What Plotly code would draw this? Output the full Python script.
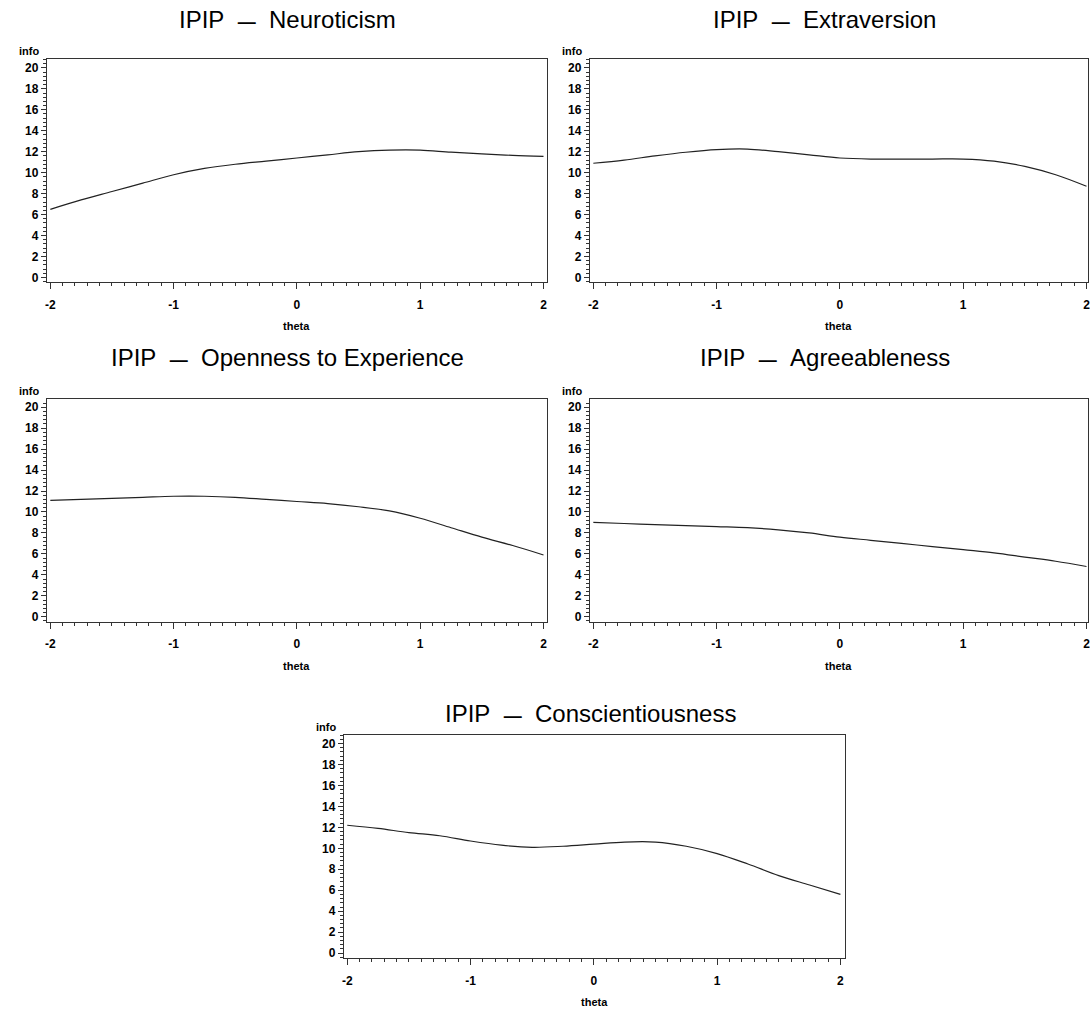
import plotly.graph_objects as go

# ---------------- data ----------------
theta = [-2.0, -1.75, -1.5, -1.25, -1.0, -0.75, -0.5, -0.25, 0.0,
         0.25, 0.5, 0.75, 1.0, 1.25, 1.5, 1.75, 2.0]

neuroticism = [6.5, 7.4, 8.2, 9.0, 9.8, 10.4, 10.8, 11.1, 11.4,
               11.7, 12.0, 12.15, 12.15, 11.95, 11.8, 11.65, 11.55]
extraversion = [10.9, 11.2, 11.6, 11.95, 12.2, 12.25, 12.0, 11.7, 11.4,
                11.3, 11.3, 11.3, 11.3, 11.1, 10.6, 9.8, 8.7]
openness = [11.1, 11.2, 11.3, 11.4, 11.5, 11.5, 11.4, 11.2, 11.0,
            10.8, 10.5, 10.1, 9.4, 8.5, 7.6, 6.8, 5.9]
agreeableness = [9.0, 8.9, 8.8, 8.7, 8.6, 8.5, 8.3, 8.0, 7.6,
                 7.3, 7.0, 6.7, 6.4, 6.1, 5.7, 5.3, 4.8]
conscientiousness = [12.2, 11.9, 11.5, 11.2, 10.7, 10.3, 10.1, 10.2, 10.4,
                     10.6, 10.6, 10.2, 9.5, 8.5, 7.4, 6.5, 5.6]

DASH = "\u00a0\u00a0<span style='font-size:18px'><b>—</b></span>\u00a0\u00a0"
titles = ["IPIP" + DASH + "Neuroticism",
          "IPIP" + DASH + "Extraversion",
          "IPIP" + DASH + "Openness to Experience",
          "IPIP" + DASH + "Agreeableness",
          "IPIP" + DASH + "Conscientiousness"]
series = [neuroticism, extraversion, openness, agreeableness, conscientiousness]

x_tickvals = [-2, -1, 0, 1, 2]
x_ticktext = ["-2", "-1", "0", "1", "2"]
y_tickvals = [0, 2, 4, 6, 8, 10, 12, 14, 16, 18, 20]
x_title = "theta"
y_title = "info"

# ---------------- layout geometry (pixels) ----------------
W, H = 1090, 1013
# frame: left, right, top, bottom ; title centre x, title centre y
panels = [
    dict(l=45, r=547, t=59, b=283, tx=287, ty=20),
    dict(l=590, r=1090, t=59, b=283, tx=826, ty=20),
    dict(l=45, r=547, t=400, b=623, tx=287, ty=358),
    dict(l=590, r=1090, t=400, b=623, tx=826, ty=358),
    dict(l=343, r=846, t=736, b=960, tx=591, ty=715),
]

PX_PER_X = 123.75   # pixels per theta unit
PX_PER_Y = 10.5     # pixels per info unit
X0_OFF = 3.5        # pixels from frame left to theta=-2
Y0_OFF = 5.0        # pixels from frame bottom to info=0

fig = go.Figure()
annotations = []
tickfont = dict(family="Liberation Sans", size=12, color="black", weight="bold")
labelfont = dict(family="Liberation Sans", size=11, color="black", weight="bold")

for i, (p, ys, ttl) in enumerate(zip(panels, series, titles)):
    n = "" if i == 0 else str(i + 1)
    xa, ya = "xaxis" + n, "yaxis" + n
    xr, yr = "x" + n, "y" + n
    fig.add_trace(go.Scatter(x=theta, y=ys, mode="lines", line_shape="spline",
                             line=dict(color="#222222", width=1.2),
                             xaxis=xr, yaxis=yr, showlegend=False,
                             hoverinfo="skip"))
    xmin = -2 - X0_OFF / PX_PER_X
    xmax = xmin + (p["r"] - p["l"]) / PX_PER_X
    ymin = 0 - Y0_OFF / PX_PER_Y
    ymax = ymin + (p["b"] - p["t"]) / PX_PER_Y
    fig.update_layout(**{
        xa: dict(domain=[p["l"] / W, p["r"] / W], range=[xmin, xmax],
                 anchor=yr, showgrid=False, zeroline=False,
                 showline=True, mirror=True, linecolor="#333333", linewidth=1,
                 ticks="outside", ticklen=6, tickwidth=1, tickcolor="#333333",
                 tickvals=x_tickvals, ticktext=x_ticktext, tickfont=tickfont,
                 ticklabelstandoff=5, ticklabeloverflow="allow",
                 minor=dict(dtick=0.1, tick0=0, ticks="outside", ticklen=3,
                            tickcolor="#333333", showgrid=False)),
        ya: dict(domain=[1 - p["b"] / H, 1 - p["t"] / H], range=[ymin, ymax],
                 anchor=xr, showgrid=False, zeroline=False,
                 showline=True, mirror=True, linecolor="#333333", linewidth=1,
                 ticks="outside", ticklen=5, tickwidth=1, tickcolor="#333333",
                 tickvals=y_tickvals, tickfont=tickfont,
                 minor=dict(dtick=0.4, tick0=0, ticks="outside", ticklen=3,
                            tickcolor="#333333", showgrid=False)),
    })
    # panel title
    annotations.append(dict(text=ttl, x=p["tx"] / W, y=1 - p["ty"] / H,
                            xref="paper", yref="paper", showarrow=False,
                            xanchor="center", yanchor="middle",
                            font=dict(family="Liberation Sans", size=24,
                                      color="black")))
    # y-axis label above the ticks
    annotations.append(dict(text=y_title, x=(p["l"] - 7) / W,
                            y=1 - (p["t"] - 1) / H, xref="paper", yref="paper",
                            showarrow=False, xanchor="right", yanchor="bottom",
                            borderpad=0, font=labelfont))
    # x-axis title
    annotations.append(dict(text=x_title, x=(p["l"] + p["r"]) / 2 / W,
                            y=1 - (p["b"] + 44) / H, xref="paper", yref="paper",
                            showarrow=False, xanchor="center", yanchor="middle",
                            font=labelfont))

fig.update_layout(width=W, height=H, margin=dict(l=0, r=0, t=0, b=0),
                  paper_bgcolor="white", plot_bgcolor="white",
                  annotations=annotations)

fig.write_html("out.html")
